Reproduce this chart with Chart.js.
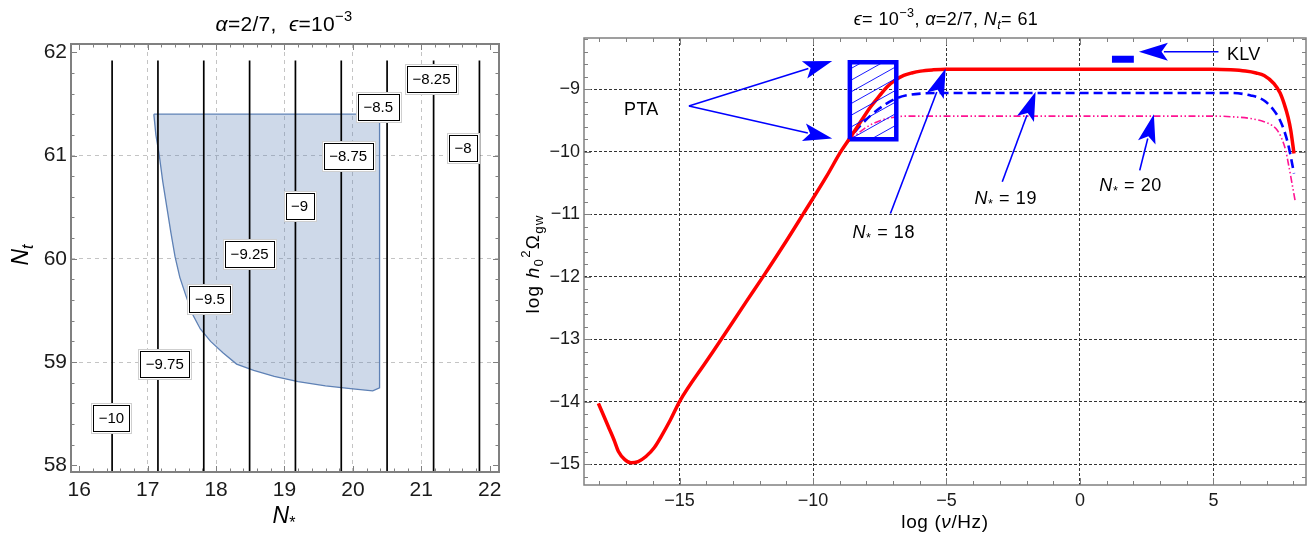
<!DOCTYPE html>
<html>
<head>
<meta charset="utf-8">
<script src="https://cdn.jsdelivr.net/npm/chart.js@4.4.1/dist/chart.umd.min.js"></script>
<style>
  body { margin: 0; background: #fff; width: 1308px; height: 535px; overflow: hidden; position: relative; }
  #left { position: absolute; left: 0; top: 0; }
  #right { position: absolute; left: 515px; top: 0; }
</style>
</head>
<body>
<canvas id="left" width="512" height="535"></canvas>
<canvas id="right" width="793" height="535"></canvas>
<script>
// ---- left panel: contours of log h0^2 Omega_gw over (N*, Nt) ----
const contourNs = [16.48, 17.15, 17.82, 18.49, 19.16, 19.83, 20.50, 21.18, 21.85];
const contourNtSpan = [57.935, 61.92];
const contourLevels = ['−10', '−9.75', '−9.5', '−9.25', '−9', '−8.75', '−8.5', '−8.25', '−8'];
const levelLabelNs = [16.47, 17.25, 17.91, 18.49, 19.22, 19.93, 20.37, 21.15, 21.61];
const levelLabelNt = [58.46, 58.98, 59.61, 60.05, 60.51, 61.0, 61.47, 61.74, 61.07];
// allowed region: top edge, right edge, then the lower-left boundary back to the start
const regionNs = [17.09, 20.39, 20.39, 20.29, 20.0, 19.6, 19.2, 18.85, 18.55, 18.30, 18.10, 17.92, 17.77, 17.65, 17.55, 17.47, 17.40, 17.34, 17.28, 17.22, 17.17, 17.12, 17.09];
const regionNt = [61.40, 61.40, 58.75, 58.72, 58.74, 58.77, 58.81, 58.86, 58.92, 58.98, 59.09, 59.20, 59.32, 59.47, 59.66, 59.82, 60.02, 60.25, 60.50, 60.75, 61.00, 61.20, 61.40];
const leftXTicks = [16, 17, 18, 19, 20, 21, 22];
const leftYTicks = [58, 59, 60, 61, 62];

// ---- right panel: spectra for N* = 18, 19, 20 ----
const nu18 = [-18.04, -17.85, -17.67, -17.45, -17.29, -17.05, -16.82, -16.55, -16.26, -15.95, -15.69, -15.35, -15.0, -14.0, -13.43, -12.5, -11.87, -11.0, -10.37, -9.5, -8.96, -8.6, -8.2, -7.84, -7.5, -7.22, -6.9, -6.6, -6.3, -5.97, -5.5, -5.03, 0, 5.0, 5.65, 6.2, 6.6, 6.9, 7.27, 7.5, 7.65, 7.8, 7.9, 8.02];
const omega18 = [-14.03, -14.22, -14.40, -14.62, -14.80, -14.93, -14.98, -14.96, -14.88, -14.74, -14.56, -14.30, -14.0, -13.36, -13.0, -12.40, -12.0, -11.43, -11.0, -10.40, -10.0, -9.77, -9.51, -9.28, -9.10, -8.96, -8.85, -8.78, -8.74, -8.71, -8.69, -8.68, -8.68, -8.68, -8.69, -8.71, -8.74, -8.78, -8.91, -9.06, -9.23, -9.45, -9.66, -10.03];
const nu19 = [-8.75, -8.5, -8.22, -7.84, -7.35, -6.84, -6.4, -5.97, -5.0, 0, 5.0, 5.65, 6.4, 6.9, 7.27, 7.5, 7.65, 7.8, 7.9, 8.02];
const omega19 = [-9.87, -9.72, -9.58, -9.42, -9.26, -9.14, -9.09, -9.07, -9.06, -9.06, -9.06, -9.06, -9.10, -9.18, -9.34, -9.50, -9.66, -9.88, -10.08, -10.35];
const nu20 = [-8.75, -8.47, -8.2, -7.97, -7.47, -6.84, -6.3, -5.5, 0, 5.0, 5.65, 6.4, 6.9, 7.2, 7.4, 7.55, 7.71, 7.8, 7.9, 8.06];
const omega20 = [-9.87, -9.76, -9.67, -9.60, -9.50, -9.44, -9.43, -9.43, -9.43, -9.43, -9.44, -9.47, -9.52, -9.58, -9.66, -9.78, -9.98, -10.17, -10.40, -10.78];
const ptaNu = [-8.62, -6.88];
const ptaOmega = [-9.80, -8.57];
const klvNu = [1.2, 2.02];
const klvOmega = -8.52;
const rightXTicks = [-15, -10, -5, 0, 5];
const rightYTicks = [-15, -14, -13, -12, -11, -10, -9];

// arrows: tail -> tip, in data coordinates
const arrowTailNu = [-14.65, -14.65, -7.10, -2.91, 2.24, 5.19];
const arrowTailOmega = [-9.27, -9.27, -10.99, -10.48, -10.30, -8.40];
const arrowTipNu = [-9.28, -9.28, -5.03, -1.66, 2.77, 2.21];
const arrowTipOmega = [-8.55, -9.79, -8.67, -9.04, -9.40, -8.40];
const noteNames = ['PTA', 'KLV', '18', '19', '20'];
const noteNu = [-16.43, 6.14, -7.35, -2.78, 1.90];
const noteOmega = [-9.34, -8.46, -11.30, -10.76, -10.55];

const FONT = '"Liberation Sans", Arial, Helvetica, sans-serif';
const minus = v => (v < 0 ? '−' + Math.abs(v) : String(v));
const pts = (xs, ys) => xs.map((x, i) => ({ x, y: Array.isArray(ys) ? ys[i] : ys }));

// text with italic / sub / sup pieces
function richText(ctx, parts, x, y, size, align, rot, spacing) {
  ctx.save();
  const sp = (spacing || 0) + 'px';
  const segs = parts.map(([t, st = '']) => {
    const small = st.includes('sub') || st.includes('sup');
    const fs = small ? size * 0.7 : size;
    const font = (st.includes('i') ? 'italic ' : '') + fs + 'px ' + FONT;
    ctx.font = font;
    ctx.letterSpacing = sp;
    const dy = st.includes('sub') ? size * 0.3 : st.includes('sup') ? -size * 0.38 : 0;
    return { t, font, w: ctx.measureText(t).width, dy };
  });
  const total = segs.reduce((s, g) => s + g.w, 0);
  ctx.translate(x, y);
  if (rot) ctx.rotate(rot);
  let cx = align === 'left' ? 0 : align === 'right' ? -total : -total / 2;
  ctx.textBaseline = 'middle';
  ctx.textAlign = 'left';
  ctx.fillStyle = '#000';
  segs.forEach(g => {
    ctx.font = g.font;
    ctx.letterSpacing = sp;
    ctx.fillText(g.t, cx, g.dy);
    cx += g.w;
  });
  ctx.restore();
}

function drawArrow(ctx, x0, y0, x1, y1, len, half) {
  const a = Math.atan2(y1 - y0, x1 - x0), c = Math.cos(a), s = Math.sin(a);
  const bx = x1 - len * c, by = y1 - len * s;
  ctx.beginPath();
  ctx.moveTo(x0, y0);
  ctx.lineTo(bx + 4 * c, by + 4 * s);
  ctx.stroke();
  ctx.beginPath();
  ctx.moveTo(x1, y1);
  ctx.lineTo(bx - s * half, by + c * half);
  ctx.lineTo(x1 - 0.78 * len * c, y1 - 0.78 * len * s);
  ctx.lineTo(bx + s * half, by - c * half);
  ctx.closePath();
  ctx.fill();
}

// Mathematica style frame with inward ticks on all four sides
function drawFrame(chart, xMaj, xStep, yMaj, yStep, majLen, minLen, frameW) {
  const { ctx, chartArea: a, scales: { x, y } } = chart;
  ctx.save();
  ctx.strokeStyle = '#808080';
  ctx.lineWidth = 1;
  const isMaj = (list, v) => list.some(m => Math.abs(m - v) < 1e-6);
  for (let v = Math.ceil(x.min / xStep) * xStep; v <= x.max + 1e-9; v += xStep) {
    const px = Math.round(x.getPixelForValue(v)) + 0.5;
    const l = isMaj(xMaj, v) ? majLen : minLen;
    ctx.beginPath();
    ctx.moveTo(px, a.bottom); ctx.lineTo(px, a.bottom - l);
    ctx.moveTo(px, a.top); ctx.lineTo(px, a.top + l);
    ctx.stroke();
  }
  for (let v = Math.ceil(y.min / yStep) * yStep; v <= y.max + 1e-9; v += yStep) {
    const py = Math.round(y.getPixelForValue(v)) + 0.5;
    const l = isMaj(yMaj, v) ? majLen : minLen;
    ctx.beginPath();
    ctx.moveTo(a.left, py); ctx.lineTo(a.left + l, py);
    ctx.moveTo(a.right, py); ctx.lineTo(a.right - l, py);
    ctx.stroke();
  }
  ctx.lineWidth = frameW;
  ctx.strokeRect(a.left, a.top, a.right - a.left, a.bottom - a.top);
  ctx.restore();
}

function labelBox(ctx, text, cx, cy, size) {
  ctx.save();
  ctx.font = size + 'px ' + FONT;
  const w = Math.round(ctx.measureText(text).width + 11), h = size + 11;
  const x = Math.round(cx - w / 2) + 0.5, y = Math.round(cy - h / 2) + 0.5;
  ctx.fillStyle = '#fff';
  ctx.fillRect(x - 2, y - 2, w + 4, h + 4);
  ctx.strokeStyle = '#cfcfcf';
  ctx.lineWidth = 1;
  ctx.strokeRect(x - 2, y - 2, w + 4, h + 4);
  ctx.strokeStyle = '#000';
  ctx.strokeRect(x, y, w, h);
  ctx.fillStyle = '#000';
  ctx.textAlign = 'center';
  ctx.textBaseline = 'middle';
  ctx.fillText(text, cx, cy + 1);
  ctx.restore();
}

const leftDecor = {
  id: 'leftDecor',
  afterDatasetsDraw(chart) {
    const { ctx, scales: { x, y } } = chart;
    contourLevels.forEach((t, i) => {
      labelBox(ctx, t, x.getPixelForValue(levelLabelNs[i]), y.getPixelForValue(levelLabelNt[i]), 15);
    });
  },
  afterDraw(chart) {
    const { ctx } = chart;
    drawFrame(chart, leftXTicks, 0.2, leftYTicks, 0.2, 6, 3.5, 2);
    richText(ctx, [['α', 'i'], ['=2/7,  '], ['ϵ', 'i'], ['=10'], ['−3', 'sup']], 284, 25, 21, 'center', 0, 0.3);
    richText(ctx, [['N', 'i'], ['*', 'sub']], 284, 517, 23);
    richText(ctx, [['N', 'i'], ['t', 'isub']], 22, 255, 23, 'center', -Math.PI / 2);
  }
};

const rightDecor = {
  id: 'rightDecor',
  afterDatasetsDraw(chart) {
    const { ctx, scales: { x, y } } = chart;
    // hatching inside the PTA box
    const l = x.getPixelForValue(ptaNu[0]), r = x.getPixelForValue(ptaNu[1]);
    const t = y.getPixelForValue(ptaOmega[1]), b = y.getPixelForValue(ptaOmega[0]);
    ctx.save();
    ctx.beginPath();
    ctx.rect(l, t, r - l, b - t);
    ctx.clip();
    ctx.strokeStyle = '#0000ff';
    ctx.lineWidth = 0.9;
    for (let k = t - 40; k < b + 40; k += 11.7) {
      ctx.beginPath();
      ctx.moveTo(l, k);
      ctx.lineTo(r, k - (r - l) * 0.56);
      ctx.stroke();
    }
    ctx.restore();
    // arrows
    ctx.save();
    ctx.strokeStyle = '#0000ff';
    ctx.fillStyle = '#0000ff';
    ctx.lineWidth = 1.6;
    arrowTailNu.forEach((v, i) => {
      drawArrow(ctx, x.getPixelForValue(v), y.getPixelForValue(arrowTailOmega[i]),
        x.getPixelForValue(arrowTipNu[i]), y.getPixelForValue(arrowTipOmega[i]), 29, 9);
    });
    ctx.restore();
    noteNames.forEach((n, i) => {
      const px = x.getPixelForValue(noteNu[i]), py = y.getPixelForValue(noteOmega[i]);
      if (i < 2) richText(ctx, [[n]], px, py, 18, 'center', 0, 0.3);
      else richText(ctx, [['N', 'i'], ['*', 'sub'], [' = ' + n]], px, py, 18, 'center', 0, 0.6);
    });
  },
  afterDraw(chart) {
    const { ctx } = chart;
    drawFrame(chart, rightXTicks, 1, rightYTicks, 0.2, 7, 4, 1.5);
    richText(ctx, [['ϵ', 'i'], ['= 10'], ['−3', 'sup'], [', '], ['α', 'i'], ['=2/7, '], ['N', 'i'], ['t', 'isub'], ['= 61']], 431, 20, 18, 'center', 0, 0.4);
    richText(ctx, [['log ('], ['ν', 'i'], ['/Hz)']], 430, 523, 19, 'center', 0, 0.6);
    richText(ctx, [['log '], ['h', 'i'], ['0', 'sub'], ['2', 'sup'], ['Ω'], ['gw', 'sub']], 19, 264, 19, 'center', -Math.PI / 2, 1.2);
  }
};

function axis(min, max, ticks, width, height, fontSize, pad, gridColor, dash, hideEdges) {
  return {
    type: 'linear', min, max,
    afterBuildTicks: s => { s.ticks = ticks.map(v => ({ value: v })); },
    afterFit: s => { if (width) s.width = width; if (height) s.height = height; },
    ticks: { callback: minus, autoSkip: false, maxRotation: 0, padding: pad, color: '#1a1a1a', font: { family: FONT, size: fontSize } },
    grid: {
      drawTicks: false, lineWidth: 1,
      color: c => (hideEdges && (c.tick.value === ticks[0] || c.tick.value === ticks[ticks.length - 1])) ? 'rgba(0,0,0,0)' : gridColor
    },
    border: { display: false, dash }
  };
}

const common = {
  responsive: false, animation: false,
  plugins: { legend: { display: false }, tooltip: { enabled: false } },
  elements: { point: { radius: 0 } }
};

const leftSets = contourNs.map(n => ({
  data: pts([n, n], contourNtSpan), showLine: true, borderColor: '#000', borderWidth: 1.7, order: 1
}));
leftSets.push({
  data: pts(regionNs, regionNt), showLine: true, fill: 'shape', order: 2,
  borderColor: 'rgb(94,129,181)', borderWidth: 1.3, backgroundColor: 'rgba(94,129,181,0.30)'
});

new Chart(document.getElementById('left'), {
  type: 'scatter',
  data: { datasets: leftSets },
  options: {
    ...common,
    layout: { padding: { top: 44, right: 13, left: 0, bottom: 0 } },
    scales: {
      x: axis(15.879, 22.136, leftXTicks, 0, 63, 21, 6, '#c4c4c4', [4, 4], true),
      y: axis(57.935, 62.08, leftYTicks, 71, 0, 21, 4, '#c4c4c4', [4, 4], true)
    }
  },
  plugins: [leftDecor]
});

new Chart(document.getElementById('right'), {
  type: 'scatter',
  data: {
    datasets: [
      { data: pts([ptaNu[0], ptaNu[1], ptaNu[1], ptaNu[0], ptaNu[0]], [ptaOmega[0], ptaOmega[0], ptaOmega[1], ptaOmega[1], ptaOmega[0]]),
        showLine: true, borderColor: '#0000ff', borderWidth: 4.5, borderJoinStyle: 'miter', order: 0 },
      { data: pts(klvNu, klvOmega), showLine: true, borderColor: '#0000ff', borderWidth: 7, borderCapStyle: 'butt', order: 0 },
      { data: pts(nu18, omega18), showLine: true, borderColor: '#ff0000', borderWidth: 3.5, cubicInterpolationMode: 'monotone', order: 1 },
      { data: pts(nu19, omega19), showLine: true, borderColor: '#0000ff', borderWidth: 2.6, borderDash: [9, 5], cubicInterpolationMode: 'monotone', order: 2 },
      { data: pts(nu20, omega20), showLine: true, borderColor: '#ff1493', borderWidth: 1.6, borderDash: [7, 2.5, 1.5, 2.5, 1.5, 2.5], cubicInterpolationMode: 'monotone', order: 3 }
    ]
  },
  options: {
    ...common,
    layout: { padding: { top: 38, right: 2, left: 0, bottom: 0 } },
    scales: {
      x: axis(-18.58, 8.47, rightXTicks, 0, 50, 18, 5, '#333', [3, 2], false),
      y: axis(-15.336, -8.18, rightYTicks, 69, 0, 18, 4, '#333', [3, 2], false)
    }
  },
  plugins: [rightDecor]
});
</script>
</body>
</html>
